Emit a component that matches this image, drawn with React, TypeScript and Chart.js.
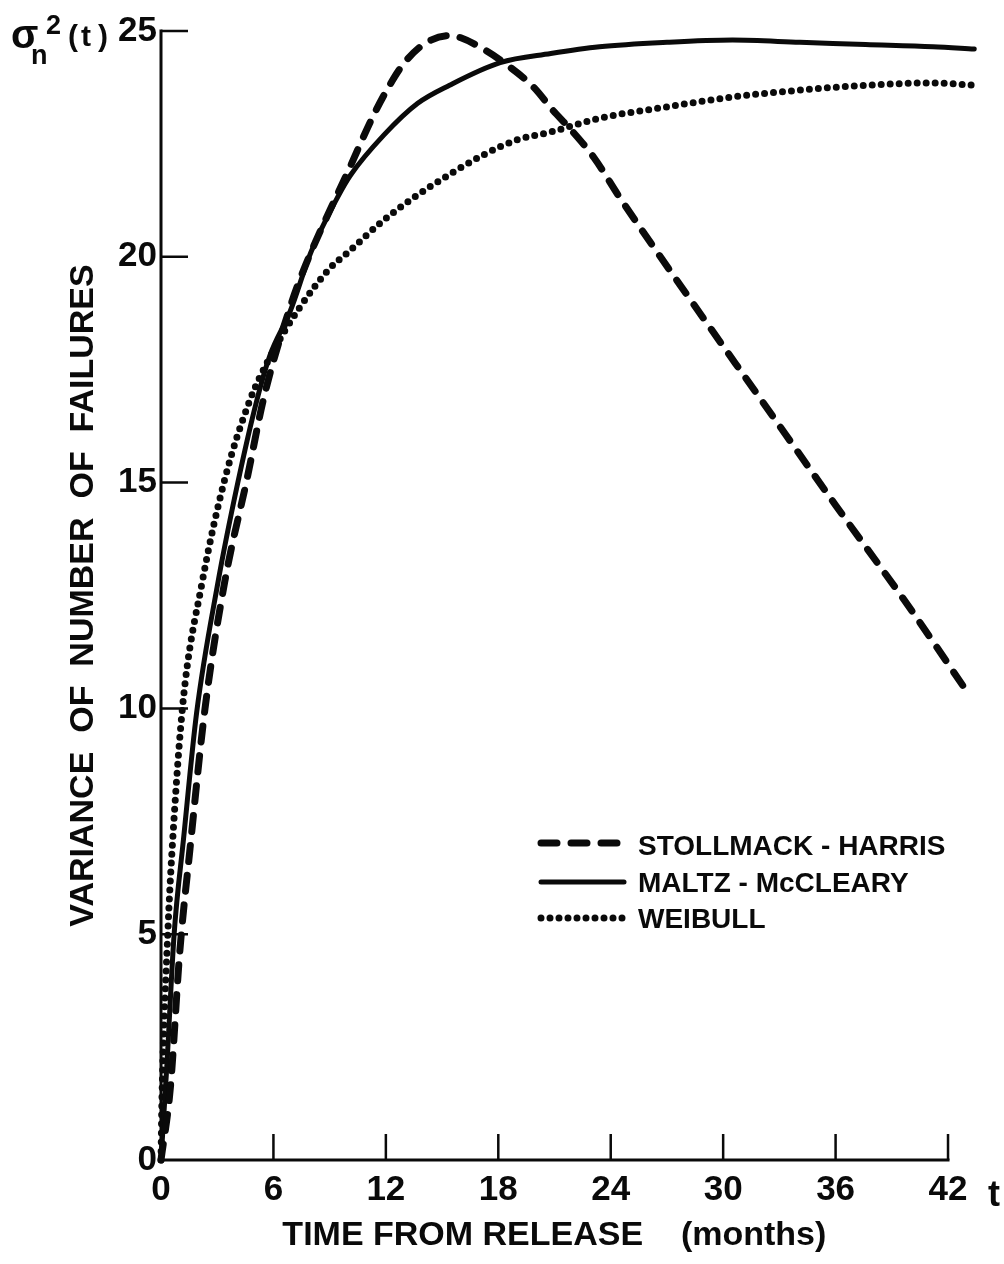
import React, { useEffect, useRef } from 'react';
import { Chart, registerables } from 'chart.js';

Chart.register(...registerables);

// ---- data ----
const xTickValues = [0, 6, 12, 18, 24, 30, 36, 42];
const yTickValues = [0, 5, 10, 15, 20, 25];

const seriesNames = ['STOLLMACK - HARRIS', 'MALTZ - McCLEARY', 'WEIBULL'];

const shMonths = [0, 0.5, 1.0, 1.55, 2.35, 3.4, 4.6, 5.5, 6.9, 7.7, 10.1, 11.3, 12.2, 12.9, 14.0, 15.4, 16.0, 17.2, 18.3, 19.9, 20.9, 21.8, 23.1, 24.5, 28, 32, 36, 40, 42.8];
const shVariance = [0, 1.6, 4.6, 6.9, 10.0, 12.8, 15.1, 16.9, 18.9, 19.8, 22.0, 23.1, 23.8, 24.25, 24.7, 24.9, 24.85, 24.6, 24.3, 23.75, 23.25, 22.85, 22.2, 21.3, 19.2, 16.85, 14.5, 12.2, 10.5];

const mmMonths = [0, 0.3, 0.7, 1.2, 1.9, 3.0, 4.1, 5.1, 5.8, 6.9, 8.0, 9.4, 10.1, 11.9, 13.7, 15.4, 18.1, 20.8, 23.4, 27.0, 30.5, 34.1, 37.6, 41.2, 43.4];
const mmVariance = [0, 2.0, 5.0, 7.1, 9.9, 12.7, 15.0, 16.8, 17.8, 18.8, 20.1, 21.3, 21.8, 22.7, 23.4, 23.8, 24.3, 24.5, 24.65, 24.75, 24.8, 24.75, 24.7, 24.65, 24.6];

const wbMonths = [0, 0.05, 0.37, 0.59, 1.17, 2.19, 3.42, 4.75, 5.82, 7.31, 9.02, 9.93, 11.85, 13.45, 14.35, 17.18, 19.0, 20.76, 23.43, 27.0, 30.52, 34.1, 37.67, 41.2, 43.33];
const wbVariance = [0, 1.33, 5.09, 6.86, 10.12, 12.78, 15.1, 16.83, 17.78, 18.82, 19.75, 20.08, 20.8, 21.3, 21.55, 22.25, 22.59, 22.76, 23.07, 23.32, 23.54, 23.69, 23.8, 23.85, 23.8];

const FONT = '"Liberation Sans", Arial, Helvetica, sans-serif';
const INK = '#0a0a0a';

const toPoints = (xs: number[], ys: number[]) => xs.map((x, i) => ({ x, y: ys[i] }));

const paperPlugin = {
  id: 'paperAxes',
  beforeDatasetsDraw(chart: any) {
    const { ctx } = chart;
    const xs = chart.scales.x;
    const ys = chart.scales.y;
    const x0 = xs.getPixelForValue(0);
    const y0 = ys.getPixelForValue(0);
    const xEnd = xs.getPixelForValue(xTickValues[xTickValues.length - 1]);
    const yTop = ys.getPixelForValue(yTickValues[yTickValues.length - 1]);
    ctx.save();
    ctx.strokeStyle = INK;
    ctx.lineWidth = 3;
    ctx.lineCap = 'square';
    ctx.beginPath();
    ctx.moveTo(x0, yTop);
    ctx.lineTo(x0, y0);
    ctx.lineTo(xEnd, y0);
    ctx.stroke();
    ctx.lineWidth = 2.5;
    ctx.lineCap = 'butt';
    ctx.beginPath();
    yTickValues.slice(1).forEach((v) => {
      const p = ys.getPixelForValue(v);
      ctx.moveTo(x0, p);
      ctx.lineTo(x0 + 27, p);
    });
    xTickValues.slice(1).forEach((v) => {
      const p = xs.getPixelForValue(v);
      ctx.moveTo(p, y0);
      ctx.lineTo(p, y0 - 26);
    });
    ctx.stroke();
    ctx.restore();
  },
  afterDraw(chart: any) {
    const { ctx } = chart;
    ctx.save();
    ctx.fillStyle = INK;
    ctx.strokeStyle = INK;
    ctx.textAlign = 'left';
    ctx.textBaseline = 'alphabetic';

    // legend (inside plot)
    const lx0 = 541;
    const lx1 = 624;
    const rows = [843, 882, 918];
    const baselines = [855, 892, 928];
    chart.data.datasets.forEach((ds: any, i: number) => {
      ctx.save();
      ctx.lineWidth = ds.borderWidth;
      ctx.lineCap = ds.borderCapStyle || 'butt';
      ctx.setLineDash(ds.borderDash || []);
      ctx.beginPath();
      ctx.moveTo(lx0, rows[i]);
      ctx.lineTo(lx1, rows[i]);
      ctx.stroke();
      ctx.restore();
      ctx.font = `bold 28px ${FONT}`;
      ctx.fillText(ds.label, 638, baselines[i]);
    });

    // sigma label at the top of the y axis
    ctx.font = `bold 40px ${FONT}`;
    ctx.fillText('σ', 11, 48);
    ctx.font = `bold 27px ${FONT}`;
    ctx.fillText('n', 31, 64);
    ctx.fillText('2', 46, 34);
    ctx.font = `bold 30px ${FONT}`;
    ctx.fillText('(', 68, 46);
    ctx.fillText('t', 81, 46);
    ctx.fillText(')', 98, 46);

    // t at the end of the x axis
    ctx.font = `bold 36px ${FONT}`;
    ctx.textAlign = 'center';
    ctx.fillText('t', 994, 1206);
    ctx.restore();
  },
};

export default function App() {
  const canvasRef = useRef<HTMLCanvasElement | null>(null);

  useEffect(() => {
    document.body.style.margin = '0';
    document.body.style.overflow = 'hidden';
    document.body.style.background = '#ffffff';
    const canvas = canvasRef.current;
    if (!canvas) return;

    const chart = new Chart(canvas, {
      type: 'line',
      data: {
        datasets: [
          {
            label: seriesNames[0],
            data: toPoints(shMonths, shVariance),
            borderColor: INK,
            borderWidth: 7,
            borderDash: [16, 14],
            borderCapStyle: 'round',
            pointRadius: 0,
            fill: false,
            cubicInterpolationMode: 'monotone',
            clip: false,
          },
          {
            label: seriesNames[1],
            data: toPoints(mmMonths, mmVariance),
            borderColor: INK,
            borderWidth: 5,
            borderCapStyle: 'round',
            pointRadius: 0,
            fill: false,
            cubicInterpolationMode: 'monotone',
            clip: false,
          },
          {
            label: seriesNames[2],
            data: toPoints(wbMonths, wbVariance),
            borderColor: INK,
            borderWidth: 7,
            borderDash: [0, 9],
            borderCapStyle: 'round',
            pointRadius: 0,
            fill: false,
            cubicInterpolationMode: 'monotone',
            clip: false,
          },
        ],
      } as any,
      options: {
        animation: false,
        responsive: true,
        maintainAspectRatio: false,
        devicePixelRatio: 1,
        events: [],
        layout: { padding: { top: 31, right: 18.5, left: 0, bottom: 0 } },
        plugins: {
          legend: { display: false },
          tooltip: { enabled: false },
        },
        scales: {
          x: {
            type: 'linear',
            min: 0,
            max: 44,
            afterBuildTicks: (s: any) => {
              s.ticks = xTickValues.map((v) => ({ value: v }));
            },
            afterFit: (s: any) => {
              s.height = 104;
            },
            grid: { display: false, drawTicks: false },
            border: { display: false },
            ticks: {
              color: INK,
              font: { family: FONT, size: 35, weight: 'bold' },
              padding: 9,
              maxRotation: 0,
              autoSkip: false,
            },
            title: {
              display: true,
              text: 'TIME FROM RELEASE    (months)    ',
              color: INK,
              font: { family: FONT, size: 34, weight: 'bold' },
              padding: { top: 0, bottom: 7.6 },
            },
          },
          y: {
            type: 'linear',
            min: 0,
            max: 25,
            afterBuildTicks: (s: any) => {
              s.ticks = yTickValues.map((v) => ({ value: v }));
            },
            afterFit: (s: any) => {
              s.width = 161;
            },
            grid: { display: false, drawTicks: false },
            border: { display: false },
            ticks: {
              color: INK,
              font: { family: FONT, size: 35, weight: 'bold' },
              padding: 4,
              autoSkip: false,
            },
            title: {
              display: true,
              text: 'VARIANCE  OF  NUMBER  OF  FAILURES',
              color: INK,
              font: { family: FONT, size: 34, weight: 'bold' },
              padding: { top: 63.6, bottom: 0 },
            },
          },
        },
      } as any,
      plugins: [paperPlugin],
    });

    return () => {
      chart.destroy();
    };
  }, []);

  return (
    <div style={{ width: 1004, height: 1264, position: 'relative', background: '#fff' }}>
      <canvas ref={canvasRef} />
    </div>
  );
}
